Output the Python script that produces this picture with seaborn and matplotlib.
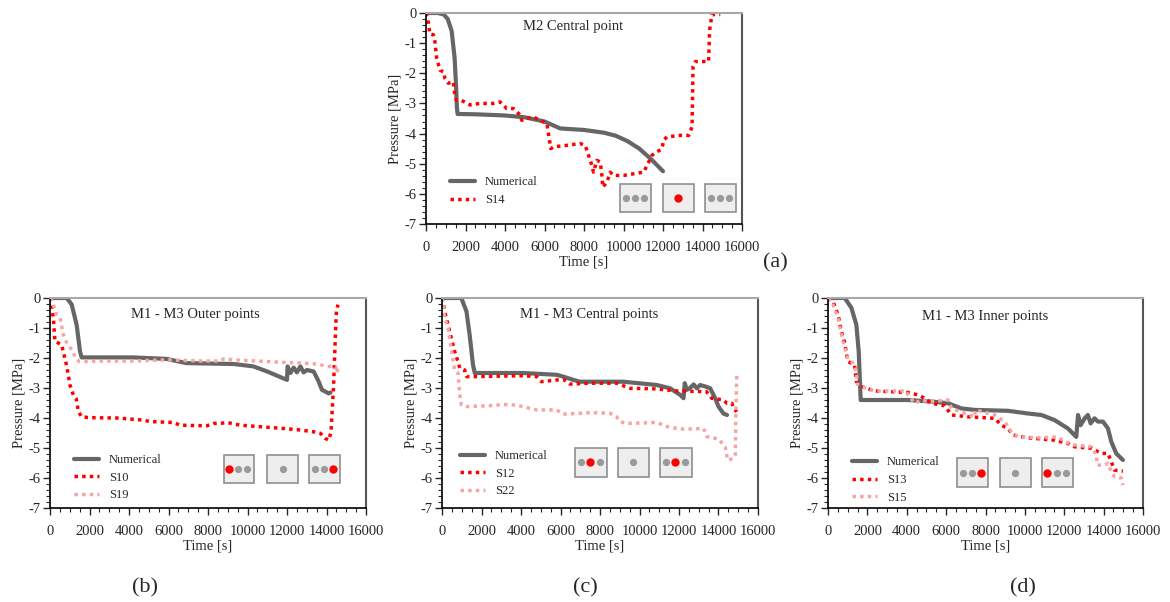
import numpy as np
import matplotlib
matplotlib.use("Agg")
import matplotlib.pyplot as plt
import seaborn as sns
from matplotlib.patches import Rectangle
from matplotlib.ticker import MultipleLocator

# (a) M2 central point
a_num_t = [0, 600, 900, 1100, 1300, 1450, 1520, 1560, 1600, 2500, 4000, 5000, 6000, 6800, 8000, 9000, 9600, 10200, 10800, 11400, 12000]
a_num_p = [0, 0, -0.05, -0.2, -0.6, -1.5, -2.4, -3.1, -3.35, -3.36, -3.4, -3.46, -3.6, -3.83, -3.88, -3.97, -4.07, -4.25, -4.5, -4.85, -5.25]
s14_t = [0, 120, 200, 370, 450, 540, 710, 880, 960, 1130, 1380, 1470, 1550, 1800, 2230, 2740, 3400, 3750, 4090, 4430, 4770, 4850, 5100, 5440, 5780, 6120, 6200, 6320, 6460, 7130, 7800, 8060, 8230, 8400, 8480, 8650, 8820, 8900, 8950, 9160, 9330, 9500, 10000, 11020, 11190, 11440, 11950, 12030, 12200, 12880, 13300, 13470, 13520, 13640, 14310, 14360, 14480, 14740, 14900]
s14_p = [0, -0.33, -0.7, -0.72, -0.95, -1.5, -1.9, -1.95, -2.17, -2.33, -2.28, -2.78, -2.9, -2.9, -3.05, -3.0, -3.0, -2.95, -3.17, -3.17, -3.39, -3.56, -3.5, -3.45, -3.56, -3.67, -4.0, -4.5, -4.44, -4.39, -4.33, -4.39, -4.72, -5.06, -5.28, -4.89, -4.94, -5.33, -5.78, -5.61, -5.28, -5.39, -5.39, -5.28, -5.06, -4.72, -4.5, -4.22, -4.11, -4.06, -4.06, -3.78, -1.78, -1.61, -1.61, -0.56, -0.05, -0.05, -0.05]

# (b) M1 - M3 outer points
b_num_t = [0, 850, 1100, 1350, 1520, 1600, 4200, 5900, 6900, 9300, 10300, 11000, 12000, 12030, 12170, 12340, 12500, 12680, 12840, 13010, 13350, 13600, 13770, 14110, 14200]
b_num_p = [0, 0, -0.22, -0.9, -1.78, -1.98, -1.98, -2.03, -2.17, -2.2, -2.28, -2.45, -2.73, -2.28, -2.5, -2.32, -2.48, -2.28, -2.48, -2.4, -2.45, -2.78, -3.06, -3.18, -3.15]
s10_t = [0, 85, 170, 250, 420, 590, 850, 1010, 1180, 1320, 1440, 1600, 2030, 3380, 4730, 5070, 6250, 6590, 7940, 8280, 8620, 8960, 9630, 10650, 11830, 12680, 13350, 13690, 13940, 14110, 14230, 14360, 14450, 14500, 14580]
s10_p = [0, -0.33, -0.67, -1.45, -1.5, -1.56, -2.28, -2.9, -3.23, -3.34, -3.79, -3.96, -3.99, -4.0, -4.07, -4.12, -4.15, -4.24, -4.26, -4.18, -4.18, -4.15, -4.24, -4.29, -4.35, -4.4, -4.46, -4.51, -4.68, -4.74, -4.46, -2.9, -1.23, -0.45, -0.22]
s19_t = [0, 170, 340, 510, 680, 850, 1100, 1350, 1520, 2540, 4220, 5900, 7600, 8620, 8790, 9290, 10990, 12680, 13520, 14030, 14450, 14530, 14570]
s19_p = [0, -0.22, -0.56, -0.67, -1.23, -1.5, -1.73, -2.06, -2.12, -2.1, -2.1, -2.06, -2.1, -2.1, -2.03, -2.06, -2.12, -2.17, -2.2, -2.28, -2.28, -2.5, -2.34]

# (c) M1 - M3 central points
c_num_t = [0, 980, 1240, 1400, 1570, 1660, 4110, 5800, 6140, 6650, 6980, 9180, 10870, 11550, 12060, 12230, 12290, 12400, 12560, 12740, 12900, 13070, 13330, 13580, 13830, 14000, 14250, 14430]
c_num_p = [0, 0, -0.45, -1.23, -2.23, -2.5, -2.5, -2.56, -2.62, -2.73, -2.79, -2.79, -2.9, -3.01, -3.23, -3.34, -2.84, -3.06, -3.0, -2.88, -3.01, -2.9, -2.95, -3.01, -3.34, -3.62, -3.85, -3.9]
s12_t = [0, 135, 390, 640, 810, 900, 1150, 1240, 1740, 4110, 4790, 5040, 5290, 6140, 6480, 7490, 8840, 9520, 10870, 11890, 13390, 13650, 14250, 14430, 14680, 14760, 14930]
s12_p = [0, -0.45, -1.12, -1.78, -2.12, -2.34, -2.4, -2.62, -2.62, -2.59, -2.62, -2.79, -2.77, -2.71, -2.87, -2.84, -2.84, -3.01, -3.03, -3.1, -3.12, -3.34, -3.4, -3.51, -3.51, -3.68, -3.79]
s22_t = [0, 135, 305, 475, 640, 810, 900, 980, 1240, 2420, 3100, 3770, 4450, 4790, 5800, 6140, 7150, 7490, 8500, 8840, 9010, 9350, 10870, 11550, 12230, 13250, 13410, 14000, 14340, 14460, 14760, 14850, 14880, 14930]
s22_p = [0, -0.67, -1.0, -1.73, -2.4, -2.5, -3.23, -3.56, -3.62, -3.59, -3.55, -3.57, -3.68, -3.73, -3.73, -3.87, -3.84, -3.82, -3.84, -3.96, -4.12, -4.18, -4.15, -4.32, -4.37, -4.35, -4.62, -4.7, -4.96, -5.4, -5.35, -5.23, -3.79, -2.5]

# (d) M1 - M3 inner points
d_num_t = [0, 850, 1190, 1440, 1560, 1660, 4060, 5420, 6100, 6770, 7450, 9140, 10160, 10840, 11510, 12190, 12610, 12700, 12830, 13040, 13200, 13340, 13540, 13710, 13970, 14220, 14390, 14640, 14980]
d_num_p = [0, 0, -0.33, -0.89, -1.78, -3.4, -3.4, -3.46, -3.51, -3.68, -3.73, -3.76, -3.85, -3.9, -4.07, -4.35, -4.63, -3.9, -4.24, -4.01, -3.9, -4.18, -4.01, -4.12, -4.12, -4.35, -4.79, -5.18, -5.4]
s13_t = [0, 250, 510, 680, 850, 930, 1020, 1350, 1440, 1690, 2370, 4060, 4570, 4910, 5250, 5930, 6270, 7110, 8470, 8800, 9140, 9400, 10160, 11510, 12190, 12530, 13370, 13880, 14220, 14390, 14560, 14980]
s13_p = [0, -0.11, -0.56, -1.12, -1.5, -1.84, -2.12, -2.23, -2.79, -2.95, -3.1, -3.15, -3.23, -3.34, -3.51, -3.59, -3.9, -3.96, -4.01, -4.24, -4.35, -4.57, -4.66, -4.74, -4.85, -4.96, -5.01, -5.18, -5.18, -5.46, -5.74, -5.77]
s15_t = [0, 250, 510, 760, 1020, 1270, 1440, 1490, 1690, 2370, 3980, 4060, 4400, 4740, 5080, 6100, 6270, 7450, 7480, 8470, 8970, 9310, 9650, 10840, 11680, 12020, 12530, 13370, 13630, 13680, 14050, 14220, 14390, 14560, 14900, 14980]
s15_p = [0, -0.22, -0.67, -1.45, -2.06, -2.17, -2.45, -2.87, -2.95, -3.1, -3.1, -3.23, -3.51, -3.4, -3.46, -3.4, -3.68, -3.96, -3.73, -3.9, -4.12, -4.46, -4.63, -4.66, -4.63, -4.79, -4.9, -4.96, -5.23, -5.57, -5.57, -5.51, -5.79, -5.96, -6.0, -6.24]

GREY = "#666666"
RED = "#ff0000"
PINK = "#f6a5a5"
DOT = (0, (1, 1.2))

sns.set_style("ticks")
plt.rcParams["font.family"] = ["Liberation Serif", "DejaVu Serif"]
plt.rcParams["axes.unicode_minus"] = False

fig = plt.figure(figsize=(11.7, 6.02), dpi=100)

W = 316 / 1170
H = 210 / 602
ax_a = fig.add_axes([426 / 1170, (602 - 224) / 602, W, 211 / 602])
ax_b = fig.add_axes([50 / 1170, (602 - 508) / 602, W, H])
ax_c = fig.add_axes([442 / 1170, (602 - 508) / 602, W, H])
ax_d = fig.add_axes([828 / 1170, (602 - 508) / 602, 315 / 1170, H])


def style_axes(ax, title, tx, ty):
    ax.set_xlim(0, 16000)
    ax.set_ylim(-7, 0)
    ax.xaxis.set_major_locator(MultipleLocator(2000))
    ax.xaxis.set_minor_locator(MultipleLocator(500))
    ax.yaxis.set_major_locator(MultipleLocator(1))
    ax.yaxis.set_minor_locator(MultipleLocator(0.2))
    ax.tick_params(which="major", length=5, width=1, labelsize=10.5)
    ax.tick_params(axis="x", which="major", pad=7)
    ax.tick_params(axis="y", which="major", pad=2)
    ax.tick_params(which="minor", length=3, width=0.8)
    for s in ["left", "bottom"]:
        ax.spines[s].set_color("black")
        ax.spines[s].set_linewidth(1.2)
    ax.spines["top"].set_visible(True)
    ax.spines["right"].set_visible(True)
    ax.spines["top"].set_color("#a8a8a8")
    ax.spines["top"].set_linewidth(1.5)
    ax.spines["right"].set_color("#555555")
    ax.spines["right"].set_linewidth(1.5)
    ax.set_xlabel("Time [s]", fontsize=10.5, labelpad=1)
    ax.set_ylabel("Pressure [MPa]", fontsize=10.5, labelpad=2)
    ax.text(tx, ty, title, transform=ax.transAxes, ha="center", va="center", fontsize=10.5)


def draw_line(ax, t, p, color, lw, ls, label):
    sns.lineplot(x=t, y=p, ax=ax, color=color, linewidth=lw, linestyle=ls,
                 label=label, sort=False, estimator=None)


def draw_boxes(ax, boxes, y0, h):
    # small specimen sketches: (x0, width, dot colours)
    for x0, w, dots in boxes:
        ax.add_patch(Rectangle((x0, y0), w, h, transform=ax.transAxes, facecolor="#eeeeee",
                               edgecolor="#8f8f8f", lw=1.2, zorder=5, clip_on=False))
        if len(dots) == 1:
            xs = [x0 + w / 2]
        else:
            xs = [x0 + w * f for f in (0.18, 0.48, 0.78)]
        for xx, c in zip(xs, dots):
            ms = 5 if c == "r" else 4.2
            ax.plot(xx, y0 + h / 2, "o", color=RED if c == "r" else "#9a9a9a", ms=ms,
                    transform=ax.transAxes, zorder=6, clip_on=False)


def legend(ax, x, y):
    leg = ax.legend(loc="upper left", bbox_to_anchor=(x, y), frameon=False, fontsize=9,
                    handlelength=2.0, handletextpad=0.8, labelspacing=0.45, borderaxespad=0)
    return leg


# (a)
draw_line(ax_a, a_num_t, a_num_p, GREY, 3, "-", "Numerical")
draw_line(ax_a, s14_t, s14_p, RED, 2.5, DOT, "S14")
style_axes(ax_a, "M2 Central point", 0.465, 0.935)
legend(ax_a, 0.06, 0.25)
draw_boxes(ax_a, [(0.614, 0.098, "ggg"), (0.75, 0.098, "r"), (0.883, 0.098, "ggg")], 0.057, 0.133)

# (b)
draw_line(ax_b, b_num_t, b_num_p, GREY, 3, "-", "Numerical")
draw_line(ax_b, s10_t, s10_p, RED, 2.5, DOT, "S10")
draw_line(ax_b, s19_t, s19_p, PINK, 2.5, DOT, "S19")
style_axes(ax_b, "M1 - M3 Outer points", 0.46, 0.92)
legend(ax_b, 0.06, 0.28)
draw_boxes(ax_b, [(0.55, 0.095, "rgg"), (0.687, 0.098, "g"), (0.82, 0.098, "ggr")], 0.12, 0.133)

# (c)
draw_line(ax_c, c_num_t, c_num_p, GREY, 3, "-", "Numerical")
draw_line(ax_c, s12_t, s12_p, RED, 2.5, DOT, "S12")
draw_line(ax_c, s22_t, s22_p, PINK, 2.5, DOT, "S22")
style_axes(ax_c, "M1 - M3 Central points", 0.465, 0.92)
legend(ax_c, 0.04, 0.3)
draw_boxes(ax_c, [(0.42, 0.102, "grg"), (0.557, 0.098, "g"), (0.69, 0.1, "grg")], 0.148, 0.138)

# (d)
draw_line(ax_d, d_num_t, d_num_p, GREY, 3, "-", "Numerical")
draw_line(ax_d, s13_t, s13_p, RED, 2.5, DOT, "S13")
draw_line(ax_d, s15_t, s15_p, PINK, 2.5, DOT, "S15")
style_axes(ax_d, "M1 - M3 Inner points", 0.5, 0.91)
legend(ax_d, 0.06, 0.27)
draw_boxes(ax_d, [(0.41, 0.098, "ggr"), (0.546, 0.098, "g"), (0.679, 0.099, "rgg")], 0.1, 0.138)

fig.text(775 / 1170, 1 - 263 / 602, "(a)", fontsize=16, ha="center", va="center")
fig.text(145 / 1170, 1 - 588 / 602, "(b)", fontsize=16, ha="center", va="center")
fig.text(585 / 1170, 1 - 588 / 602, "(c)", fontsize=16, ha="center", va="center")
fig.text(1023 / 1170, 1 - 588 / 602, "(d)", fontsize=16, ha="center", va="center")

fig.savefig("out.png", dpi=100)
